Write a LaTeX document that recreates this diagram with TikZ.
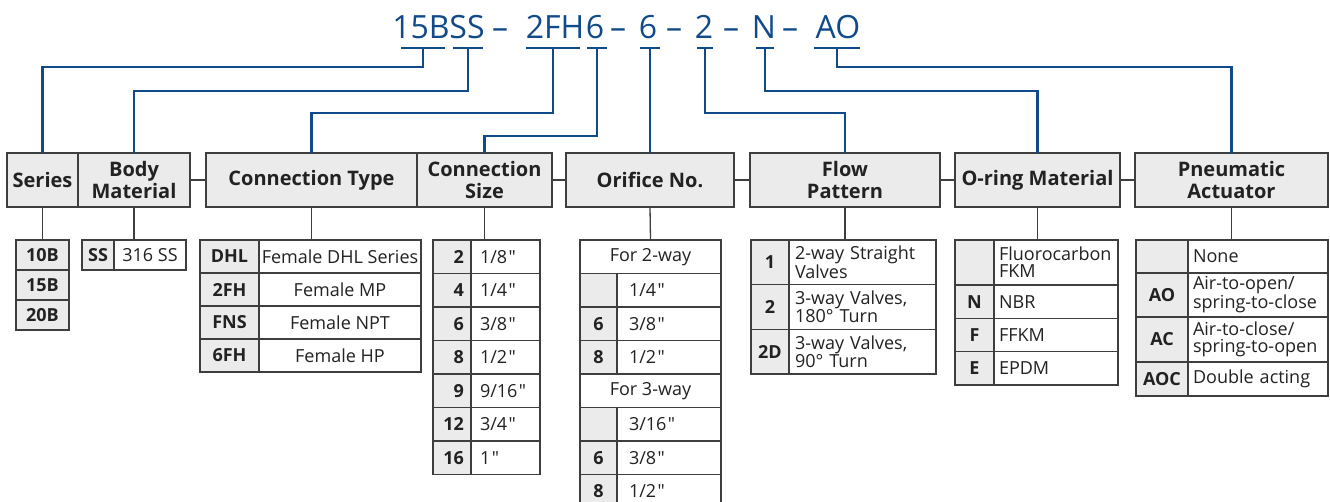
\documentclass[tikz,border=0pt]{standalone}
\usepackage{fontspec}
\setmainfont{Open Sans}
\usetikzlibrary{positioning}

\definecolor{codeblue}{RGB}{16,74,138}
\definecolor{boxgray}{RGB}{235,235,235}
\definecolor{linegray}{RGB}{62,62,62}
\definecolor{textgray}{RGB}{34,34,34}

\newcommand{\inchmark}{\kern1.5pt\textquotedbl}

\tikzset{
  head/.style={draw=linegray, line width=1.6pt, fill=boxgray, text=textgray,
    minimum height=54pt, inner sep=0pt, outer sep=0pt, align=center,
    font=\fontsize{20}{22}\selectfont\bfseries},
  code/.style={draw=linegray, line width=1.3pt, fill=boxgray, text=textgray,
    inner sep=0pt, outer sep=0pt, align=center,
    font=\fontsize{18}{18}\selectfont\bfseries},
  desc/.style={draw=linegray, line width=1.3pt, fill=white, text=textgray,
    inner sep=0pt, outer sep=0pt, align=center,
    font=\fontsize{18}{17}\selectfont},
  digit/.style={text=codeblue, anchor=base, inner sep=0pt,
    font=\fontsize{32}{32}\selectfont},
  bar/.style={draw=codeblue, line width=2.4pt},
  link/.style={draw=codeblue, line width=2.4pt},
  stem/.style={draw=linegray, line width=1.3pt},
}

\begin{document}
\begin{tikzpicture}[x=1pt,y=-1pt]
  \useasboundingbox (0,0) rectangle (1330,501);
  \clip (0,0) rectangle (1330,501);

  % Ordering code
  \node[digit] (d15B) at (421,38) {15B};
  \node[digit] (dSS)  at (467,38) {SS};
  \node[digit] (m1)   at (500,38) {–};
  \node[digit] (d2FH) at (555,38) {2FH};
  \node[digit] (d6a)  at (595,38) {6};
  \node[digit] (m2)   at (618,38) {–};
  \node[digit] (d6b)  at (648,38) {6};
  \node[digit] (m3)   at (674,38) {–};
  \node[digit] (d2)   at (704,38) {2};
  \node[digit] (m4)   at (731,38) {–};
  \node[digit] (dN)   at (764,38) {N};
  \node[digit] (m5)   at (790,38) {–};
  \node[digit] (dAO)  at (838,38) {AO};

  \coordinate (k15B) at (423,48);
  \coordinate (kSS)  at (468,48);
  \coordinate (k2FH) at (553,48);
  \coordinate (k6a)  at (597,48);
  \coordinate (k6b)  at (650,48);
  \coordinate (k2)   at (705,48);
  \coordinate (kN)   at (765,48);
  \coordinate (kAO)  at (837,48);

  \draw[bar] ([xshift=-22pt]k15B) -- ([xshift=22pt]k15B);
  \draw[bar] ([xshift=-15pt]kSS) -- ([xshift=15pt]kSS);
  \draw[bar] ([xshift=-27pt]k2FH) -- ([xshift=27pt]k2FH);
  \draw[bar] ([xshift=-10pt]k6a) -- ([xshift=10pt]k6a);
  \draw[bar] ([xshift=-10pt]k6b) -- ([xshift=10pt]k6b);
  \draw[bar] ([xshift=-8pt]k2) -- ([xshift=8pt]k2);
  \draw[bar] ([xshift=-9pt]kN) -- ([xshift=9pt]kN);
  \draw[bar] ([xshift=-23pt]kAO) -- ([xshift=23pt]kAO);

  % Headers
  \node[head, minimum width=71pt]  (series)  at (42.5,180)  {Series};
  \node[head, minimum width=112pt] (body)    at (134,180)   {Body\\Material};
  \node[head, minimum width=211pt] (ctype)   at (311.5,180) {Connection Type};
  \node[head, minimum width=135pt] (csize)   at (484.5,180) {Connection\\Size};
  \node[head, minimum width=168pt] (orifice) at (650,180)   {Orifice No.};
  \node[head, minimum width=190pt] (flow)    at (845,180)   {Flow\\Pattern};
  \node[head, minimum width=165pt] (oring)   at (1037.5,180){O-ring Material};
  \node[head, minimum width=193pt] (pneu)    at (1231.5,180){Pneumatic\\Actuator};

  % Series
  \node[code, minimum width=53pt, minimum height=30pt, anchor=north west] (s10B) at (16,240) {10B};
  \node[code, minimum width=53pt, minimum height=30pt, below=0pt of s10B] (s15B) {15B};
  \node[code, minimum width=53pt, minimum height=30pt, below=0pt of s15B] (s20B) {20B};

  % Body material
  \node[code, minimum width=32pt, minimum height=30pt, anchor=north west] (bSS) at (82,240) {SS};
  \node[desc, minimum width=72pt, minimum height=30pt, right=0pt of bSS] (bSSd) {316 SS};

  % Connection type
  \node[code, minimum width=59pt, minimum height=33pt, anchor=north west] (tDHL) at (200,240) {DHL};
  \node[desc, minimum width=162pt, minimum height=33pt, right=0pt of tDHL] (tDHLd) {Female DHL Series};
  \node[code, minimum width=59pt, minimum height=33pt, below=0pt of tDHL] (t2FH) {2FH};
  \node[desc, minimum width=162pt, minimum height=33pt, right=0pt of t2FH] (t2FHd) {Female MP};
  \node[code, minimum width=59pt, minimum height=33pt, below=0pt of t2FH] (tFNS) {FNS};
  \node[desc, minimum width=162pt, minimum height=33pt, right=0pt of tFNS] (tFNSd) {Female NPT};
  \node[code, minimum width=59pt, minimum height=33pt, below=0pt of tFNS] (t6FH) {6FH};
  \node[desc, minimum width=162pt, minimum height=33pt, right=0pt of t6FH] (t6FHd) {Female HP};

  % Connection size
  \tikzset{szc/.style={code, minimum height=33.5pt, inner xsep=7pt, text width=24pt, align=right},
           szd/.style={desc, minimum height=33.5pt, inner xsep=9pt, text width=51pt, align=left}}
  \node[szc, anchor=north west] (z2) at (433,240) {2};
  \node[szd, right=0pt of z2] (z2d) {1/8\inchmark};
  \node[szc, below=0pt of z2] (z4) {4};
  \node[szd, right=0pt of z4] (z4d) {1/4\inchmark};
  \node[szc, below=0pt of z4] (z6) {6};
  \node[szd, right=0pt of z6] (z6d) {3/8\inchmark};
  \node[szc, below=0pt of z6] (z8) {8};
  \node[szd, right=0pt of z8] (z8d) {1/2\inchmark};
  \node[szc, below=0pt of z8] (z9) {9};
  \node[szd, right=0pt of z9] (z9d) {9/16\inchmark};
  \node[szc, below=0pt of z9] (z12) {12};
  \node[szd, right=0pt of z12] (z12d) {3/4\inchmark};
  \node[szc, below=0pt of z12] (z16) {16};
  \node[szd, right=0pt of z16] (z16d) {1\inchmark};

  % Orifice
  \tikzset{orc/.style={code, minimum width=37pt, minimum height=33.5pt},
           ord/.style={desc, minimum height=33.5pt, inner xsep=12pt, text width=80pt, align=left},
           orw/.style={desc, minimum width=141pt, minimum height=33.5pt}}
  \node[orw, anchor=north west] (o2way) at (580,240) {For 2-way};
  \node[orc, below=0pt of o2way.south west, anchor=north west] (o1) {};
  \node[ord, right=0pt of o1] (o1d) {1/4\inchmark};
  \node[orc, below=0pt of o1] (o6) {6};
  \node[ord, right=0pt of o6] (o6d) {3/8\inchmark};
  \node[orc, below=0pt of o6] (o8) {8};
  \node[ord, right=0pt of o8] (o8d) {1/2\inchmark};
  \node[orw, below=0pt of o8.south west, anchor=north west] (o3way) {For 3-way};
  \node[orc, below=0pt of o3way.south west, anchor=north west] (o3) {};
  \node[ord, right=0pt of o3] (o3d) {3/16\inchmark};
  \node[orc, below=0pt of o3] (o6b) {6};
  \node[ord, right=0pt of o6b] (o6bd) {3/8\inchmark};
  \node[orc, below=0pt of o6b] (o8b) {8};
  \node[ord, right=0pt of o8b] (o8bd) {1/2\inchmark};

  % Flow pattern
  \tikzset{flc/.style={code, minimum width=38pt, minimum height=44.7pt},
           fld/.style={desc, minimum height=44.7pt, inner xsep=6pt, text width=135pt, align=left}}
  \node[flc, anchor=north west] (f1) at (751,240) {1};
  \node[fld, right=0pt of f1] (f1d) {2-way Straight\\Valves};
  \node[flc, below=0pt of f1] (f2) {2};
  \node[fld, right=0pt of f2] (f2d) {3-way Valves,\\180° Turn};
  \node[flc, below=0pt of f2] (f2D) {2D};
  \node[fld, right=0pt of f2D] (f2Dd) {3-way Valves,\\90° Turn};

  % O-ring material
  \tikzset{rgc/.style={code, minimum width=39pt},
           rgd/.style={desc, inner xsep=5pt, text width=114pt, align=left}}
  \node[rgc, minimum height=45pt, anchor=north west] (rFKM) at (955,240) {};
  \node[rgd, minimum height=45pt, right=0pt of rFKM] (rFKMd) {Fluorocarbon\\FKM};
  \node[rgc, minimum height=33.3pt, below=0pt of rFKM] (rN) {N};
  \node[rgd, minimum height=33.3pt, right=0pt of rN] (rNd) {NBR};
  \node[rgc, minimum height=33.3pt, below=0pt of rN] (rF) {F};
  \node[rgd, minimum height=33.3pt, right=0pt of rF] (rFd) {FFKM};
  \node[rgc, minimum height=33.3pt, below=0pt of rF] (rE) {E};
  \node[rgd, minimum height=33.3pt, right=0pt of rE] (rEd) {EPDM};

  % Pneumatic actuator
  \tikzset{pnc/.style={code, minimum width=52pt},
           pnd/.style={desc, inner xsep=5pt, text width=130pt, align=left}}
  \node[pnc, minimum height=33pt, anchor=north west] (pNone) at (1136,240) {};
  \node[pnd, minimum height=33pt, right=0pt of pNone] (pNoned) {None};
  \node[pnc, minimum height=44pt, below=0pt of pNone] (pAO) {AO};
  \node[pnd, minimum height=44pt, right=0pt of pAO] (pAOd) {Air-to-open/\\spring-to-close};
  \node[pnc, minimum height=45pt, below=0pt of pAO] (pAC) {AC};
  \node[pnd, minimum height=45pt, right=0pt of pAC] (pACd) {Air-to-close/\\spring-to-open};
  \node[pnc, minimum height=34pt, below=0pt of pAC] (pAOC) {AOC};
  \node[pnd, minimum height=34pt, right=0pt of pAOC] (pAOCd) {Double acting};

  % Edges
  \draw[link] (k15B) -- ++(0,19) -| (series.north);
  \draw[link] (kSS) -- ++(0,43) -| (body.north);
  \draw[link] (k2FH) -- ++(0,65) -| (ctype.north);
  \draw[link] (k6a) -- ++(0,88) -| (csize.north);
  \draw[link] (k6b) -- (k6b |- orifice.north);
  \draw[link] (k2) -- ++(0,65) -| (flow.north);
  \draw[link] (kN) -- ++(0,43) -| (oring.north);
  \draw[link] (kAO) -- ++(0,19) -| (pneu.north);

  \draw[stem] (body.east) -- (ctype.west);
  \draw[stem] (csize.east) -- (orifice.west);
  \draw[stem] (orifice.east) -- (flow.west);
  \draw[stem] (flow.east) -- (oring.west);
  \draw[stem] (oring.east) -- (pneu.west);

  \draw[stem] (series.south) -- (s10B.north);
  \draw[stem] (body.south) -- (body.south |- bSS.north);
  \draw[stem] (ctype.south) -- (ctype.south |- tDHL.north);
  \draw[stem] (csize.south) -- (csize.south |- z2.north);
  \draw[stem] (orifice.south) -- (o2way.north);
  \draw[stem] (flow.south) -- (flow.south |- f1.north);
  \draw[stem] (oring.south) -- (oring.south |- rFKM.north);
  \draw[stem] (pneu.south) -- (pneu.south |- pNone.north);
\end{tikzpicture}
\end{document}
